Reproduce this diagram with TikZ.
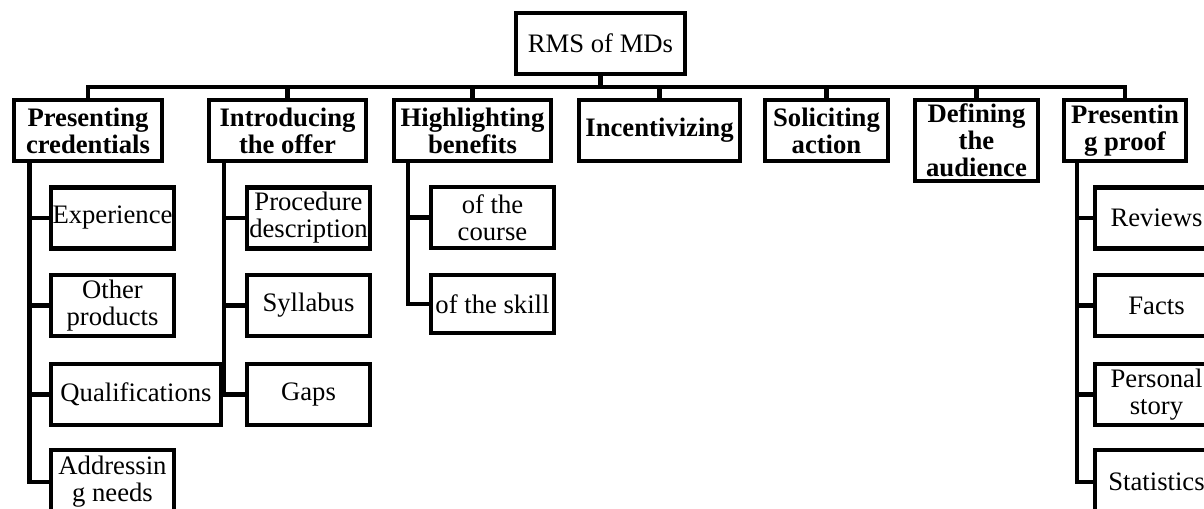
\documentclass[tikz,border=0pt]{standalone}
\usepackage{fontspec}
\setmainfont{Liberation Serif}
\begin{document}
\begin{tikzpicture}[x=0.75pt,y=-0.75pt,line width=3.4pt,
  bx/.style={draw,line width=3.4pt,inner sep=0pt,align=center,
    font=\fontsize{20}{20.25}\selectfont},
  hd/.style={bx,font=\bfseries\fontsize{20}{20.25}\selectfont,minimum height=61*0.75pt},
  lf/.style={bx,minimum width=123*0.75pt,minimum height=61*0.75pt},
  conn/.style={line width=3.4pt}]
\useasboundingbox (0,0) rectangle (1204,508);
% root
\node[bx,minimum width=169*0.75pt,minimum height=61*0.75pt] (rms) at (600.5,43.5) {RMS of MDs};
% level 1
\node[hd,minimum width=148*0.75pt] (pc) at (88,130.5) {Presenting\\credentials};
\node[hd,minimum width=157*0.75pt] (io) at (287.5,130.5) {Introducing\\the offer};
\node[hd,minimum width=157*0.75pt] (hb) at (472.5,130.5) {Highlighting\\benefits};
\node[hd,minimum width=161*0.75pt] (inc) at (659.5,130.5) {Incentivizing};
\node[hd,minimum width=123*0.75pt] (sa) at (826.5,130.5) {Soliciting\\action};
\node[hd,minimum width=123*0.75pt,minimum height=81*0.75pt] (da) at (976.5,140.5) {Defining\\the\\audience};
\node[hd,minimum width=122*0.75pt] (pp) at (1125,130.5) {Presentin\\g proof};
% bus
\coordinate (bus) at (600,87);
\draw[conn] (pc.north) |- (bus) -| (pp.north);
\draw[conn] (rms.south) -- (rms.south |- bus);
\foreach \n in {io,hb,inc,sa,da} \draw[conn] (\n.north) -- (\n.north |- bus);
% Presenting credentials children
\node[lf] (exp) at (112.5,218) {Experience};
\node[lf] (oth) at (112.5,305.5) {Other\\products};
\node[lf,minimum width=170*0.75pt] (qua) at (136,394.5) {Qualifications};
\node[lf,minimum height=64*0.75pt] (add) at (112.5,482) {Addressin\\g needs};
\coordinate (pcx) at (29.5,161);
\foreach \n in {exp,oth,qua,add} \draw[conn] (pcx) |- (\n.west);
% Introducing the offer children
\node[lf] (pro) at (308.5,218) {Procedure\\description};
\node[lf] (syl) at (308.5,305.5) {Syllabus};
\node[lf] (gap) at (308.5,394.5) {Gaps};
\coordinate (iox) at (224,161);
\foreach \n in {pro,syl,gap} \draw[conn] (iox) |- (\n.west);
% Highlighting benefits children
\node[lf] (crs) at (492.5,217.5) {of the\\course};
\node[lf,minimum height=58*0.75pt] (skl) at (492.5,304) {of the skill};
\coordinate (hbx) at (408,161);
\foreach \n in {crs,skl} \draw[conn] (hbx) |- (\n.west);
% Presenting proof children
\node[lf] (rev) at (1156.5,218) {Reviews};
\node[lf] (fac) at (1156.5,305.5) {Facts};
\node[lf] (per) at (1156.5,394.5) {Personal\\story};
\node[lf,minimum height=64*0.75pt] (sta) at (1156.5,482) {Statistics};
\coordinate (ppx) at (1077,161);
\foreach \n in {rev,fac,per,sta} \draw[conn] (ppx) |- (\n.west);
\end{tikzpicture}
\end{document}
